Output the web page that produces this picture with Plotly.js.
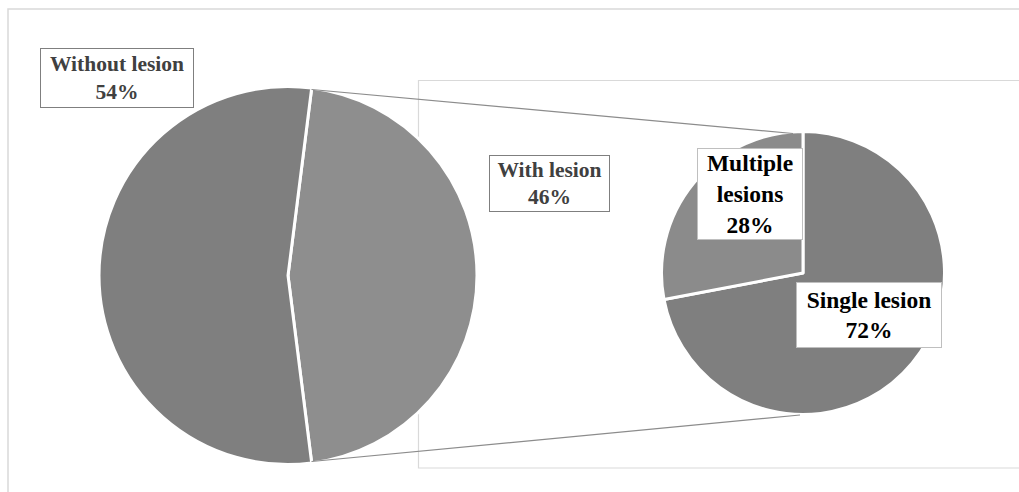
<!DOCTYPE html>
<html>
<head>
<meta charset="utf-8">
<script src="https://cdn.plot.ly/plotly-3.0.1.min.js"></script>
<style>html,body{margin:0;padding:0;background:#fff;}#chart{width:1019px;height:492px;}</style>
</head>
<body>
<div id="chart"></div>
<script>
// Data
const mainLabels = ["With lesion", "Without lesion"];
const mainValues = [46, 54];
const subLabels = ["Single lesion", "Multiple lesions"];
const subValues = [72, 28];
const mainColors = ["#8e8e8e", "#7f7f7f"];
const subColors = ["#7f7f7f", "#8b8b8b"];

const W = 1019, H = 492;
// geometry (pixels)
const c1 = {x: 288, y: 275.5, r: 189};
const c2 = {x: 803, y: 273, r: 141.5};
function dom(c) {
  return {
    x: [(c.x - c.r) / W, (c.x + c.r) / W],
    y: [1 - (c.y + c.r) / H, 1 - (c.y - c.r) / H]
  };
}
const totalMain = mainValues.reduce((a, b) => a + b, 0);
const halfAngle = 180 * mainValues[0] / totalMain;
const rot = 90 - halfAngle;

const traces = [
  {
    type: "pie", labels: mainLabels, values: mainValues, sort: false,
    direction: "clockwise", rotation: rot, domain: dom(c1),
    marker: {colors: mainColors, line: {color: "#ffffff", width: 3}},
    textinfo: "none", hoverinfo: "label+percent"
  },
  {
    type: "pie", labels: subLabels, values: subValues, sort: false,
    direction: "clockwise", rotation: 0, domain: dom(c2),
    marker: {colors: subColors, line: {color: "#ffffff", width: 3}},
    textinfo: "none", hoverinfo: "label+percent"
  }
];

const rad = Math.PI / 180;
const r1 = c1.r - 1.5, r2 = c2.r - 1.5;
const topA = rot * rad, botA = (rot + 2 * halfAngle) * rad;
const p1 = {x: c1.x + r1 * Math.sin(topA), y: c1.y - r1 * Math.cos(topA)};
const p2 = {x: c1.x + r1 * Math.sin(botA), y: c1.y - r1 * Math.cos(botA)};
const q1 = {x: c2.x - 10, y: c2.y - r2 + 0.5};
const q2 = {x: c2.x - 3, y: c2.y + r2 + 2};
function px(x) { return x / W; }
function py(y) { return 1 - y / H; }

const shapes = [
  // outer chart border
  {type: "rect", xref: "paper", yref: "paper", x0: px(8), x1: px(1030), y0: py(500), y1: py(9),
   line: {color: "#d9d9d9", width: 1.5}, fillcolor: "rgba(0,0,0,0)", layer: "below"},
  // inner plot area
  {type: "rect", xref: "paper", yref: "paper", x0: px(418.5), x1: px(1030), y0: py(468), y1: py(80.5),
   line: {color: "#d9d9d9", width: 1.2}, fillcolor: "rgba(0,0,0,0)", layer: "below"},
  // connectors
  {type: "line", xref: "paper", yref: "paper", x0: px(p1.x), y0: py(p1.y), x1: px(q1.x), y1: py(q1.y),
   line: {color: "#8c8c8c", width: 1.2}},
  {type: "line", xref: "paper", yref: "paper", x0: px(p2.x), y0: py(p2.y), x1: px(q2.x), y1: py(q2.y),
   line: {color: "#8c8c8c", width: 1.2}}
];

function pct(v, arr) { return Math.round(100 * v / arr.reduce((a, b) => a + b, 0)) + "%"; }
const serif = "Liberation Serif, Times New Roman, serif";
const annotations = [
  {x: px(117), y: py(78), width: 152, height: 58, text: "<b>" + mainLabels[1] + "<br>" + pct(mainValues[1], mainValues) + "</b>",
   font: {family: serif, size: 21.5, color: "#404040"}, bordercolor: "#7f7f7f"},
  {x: px(549.5), y: py(183.5), width: 119, height: 55, text: "<b>" + mainLabels[0] + "<br>" + pct(mainValues[0], mainValues) + "</b>",
   font: {family: serif, size: 21.5, color: "#404040"}, bordercolor: "#7f7f7f"},
  {x: px(750), y: py(194), width: 104, height: 90, text: "<b>Multiple<br>lesions<br>" + pct(subValues[1], subValues) + "</b>",
   font: {family: serif, size: 23.5, color: "#000000"}, bordercolor: "#bfbfbf"},
  {x: px(869), y: py(315), width: 144, height: 64, text: "<b>" + subLabels[0] + "<br>" + pct(subValues[0], subValues) + "</b>",
   font: {family: serif, size: 23.5, color: "#000000"}, bordercolor: "#bfbfbf"}
].map(a => Object.assign({xref: "paper", yref: "paper", showarrow: false, xanchor: "center", yanchor: "middle",
  bgcolor: "#ffffff", borderwidth: 1, borderpad: 0}, a));

const layout = {
  width: W, height: H, margin: {l: 0, r: 0, t: 0, b: 0},
  paper_bgcolor: "#ffffff", plot_bgcolor: "#ffffff",
  showlegend: false, shapes: shapes, annotations: annotations
};

Plotly.newPlot("chart", traces, layout, {displayModeBar: false, staticPlot: true});
</script>
</body>
</html>
